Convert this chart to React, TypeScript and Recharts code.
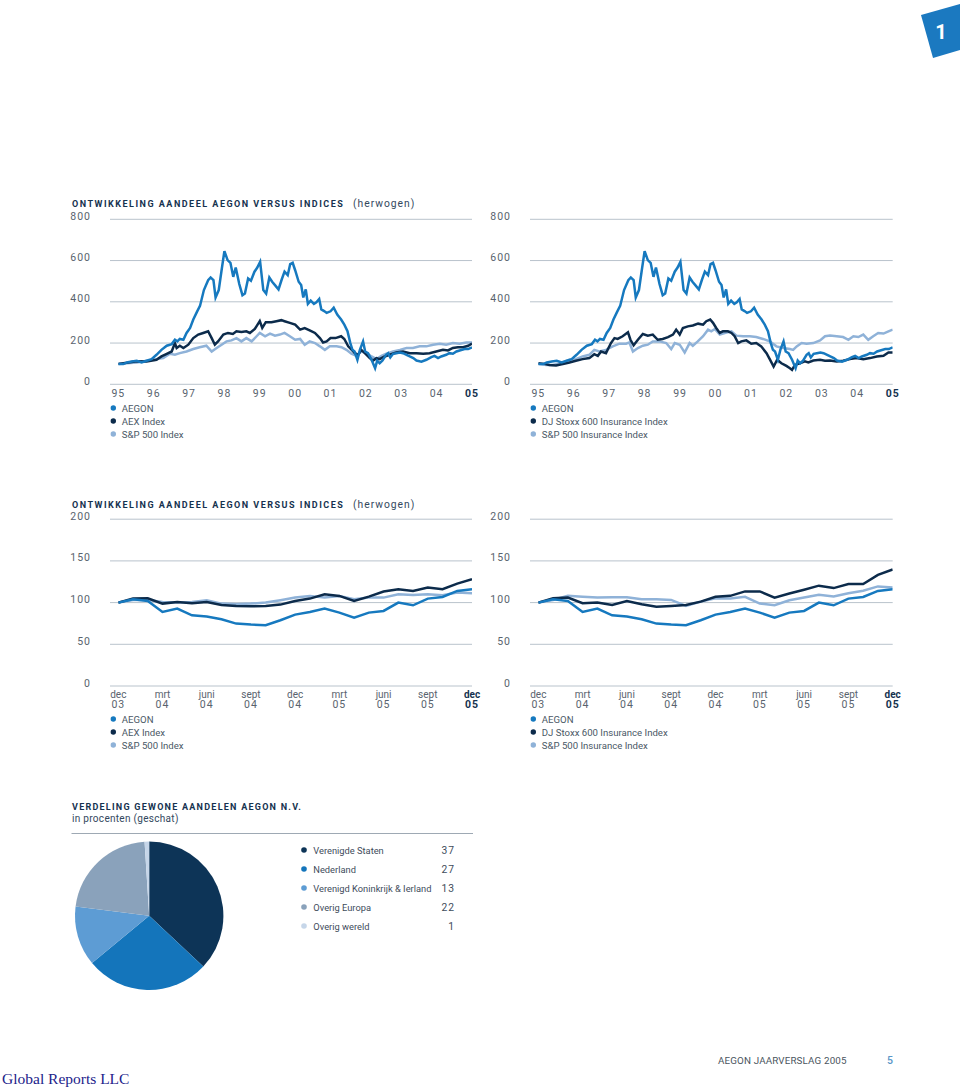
import React from 'react';
import { LineChart, Line, XAxis, YAxis, CartesianGrid, PieChart, Pie, Cell } from 'recharts';

const FONT = 'Roboto, "Open Sans", sans-serif';
const C_AEGON = '#1679bf';
const C_DARK = '#0c2b4b';
const C_LIGHT = '#8fb2d8';
const GRID = '#b9c3cc';
const TICK = '#59636e';
const NAVY = '#15324f';

// Long-term series: [year (95 = 1995 ... 105 = 2005), indexed value]
const aegonLong: [number, number][] = [
  [95.0, 99], [95.14, 98], [95.24, 106], [95.38, 111], [95.52, 114], [95.66, 106], [95.8, 114], [95.94, 122],
  [96.08, 143], [96.22, 167], [96.37, 187], [96.51, 195], [96.6, 216], [96.67, 208], [96.74, 220], [96.84, 216],
  [96.93, 249], [97.03, 273], [97.12, 314], [97.22, 350], [97.31, 380], [97.42, 457], [97.54, 505], [97.61, 518],
  [97.69, 505], [97.75, 421], [97.84, 457], [97.92, 553], [98.0, 646], [98.09, 602], [98.17, 589], [98.25, 521],
  [98.32, 566], [98.42, 486], [98.51, 432], [98.58, 440], [98.67, 513], [98.75, 502], [98.85, 546], [98.93, 566],
  [99.01, 594], [99.1, 457], [99.18, 440], [99.27, 518], [99.35, 497], [99.43, 481], [99.53, 460], [99.62, 508],
  [99.7, 546], [99.79, 529], [99.86, 583], [99.93, 589], [100.0, 553], [100.1, 497], [100.17, 481], [100.23, 421],
  [100.3, 460], [100.36, 390], [100.44, 406], [100.53, 390], [100.6, 398], [100.68, 414], [100.74, 363], [100.82, 355],
  [100.89, 346], [101.0, 354], [101.09, 371], [101.19, 338], [101.3, 314], [101.39, 289], [101.48, 257], [101.56, 200],
  [101.62, 167], [101.68, 159], [101.76, 119], [101.83, 167], [101.92, 208], [101.98, 159], [102.06, 151], [102.16, 119],
  [102.26, 78], [102.32, 115], [102.39, 102], [102.47, 115], [102.57, 143], [102.63, 151], [102.69, 130], [102.77, 148],
  [102.86, 151], [102.96, 154], [103.05, 151], [103.15, 143], [103.24, 135], [103.34, 127], [103.43, 115], [103.57, 110],
  [103.71, 119], [103.85, 132], [103.94, 138], [104.04, 127], [104.13, 135], [104.27, 143], [104.36, 151], [104.46, 148],
  [104.56, 159], [104.65, 164], [104.79, 171], [104.89, 171], [105.0, 179],
];

const aexLong: [number, number][] = [
  [95.0, 99], [95.24, 104], [95.52, 112], [95.8, 110], [96.08, 119], [96.22, 135], [96.37, 148], [96.51, 159],
  [96.6, 200], [96.65, 176], [96.74, 187], [96.84, 176], [96.98, 192], [97.12, 224], [97.26, 241], [97.4, 249],
  [97.54, 257], [97.64, 224], [97.73, 192], [97.82, 208], [97.97, 241], [98.1, 249], [98.24, 244], [98.34, 257],
  [98.48, 254], [98.62, 257], [98.72, 249], [98.86, 268], [99.0, 306], [99.07, 273], [99.17, 301], [99.33, 301],
  [99.47, 306], [99.61, 311], [99.7, 306], [99.85, 298], [100.0, 289], [100.14, 265], [100.27, 273], [100.41, 262],
  [100.56, 249], [100.7, 224], [100.79, 203], [100.89, 208], [101.0, 224], [101.14, 224], [101.3, 233], [101.39, 220],
  [101.5, 184], [101.6, 167], [101.69, 151], [101.78, 143], [101.87, 167], [101.97, 151], [102.11, 127], [102.2, 115],
  [102.3, 127], [102.39, 122], [102.53, 135], [102.67, 143], [102.86, 154], [103.05, 159], [103.24, 151], [103.43, 151],
  [103.62, 148], [103.8, 151], [103.99, 159], [104.18, 167], [104.32, 164], [104.46, 176], [104.6, 180], [104.75, 180],
  [104.89, 187], [105.0, 197],
];

const spLong: [number, number][] = [
  [95.0, 98], [95.24, 102], [95.52, 106], [95.8, 114], [96.08, 122], [96.27, 127], [96.46, 148], [96.6, 143],
  [96.74, 151], [96.93, 159], [97.12, 171], [97.3, 180], [97.49, 187], [97.64, 159], [97.78, 176], [97.92, 192],
  [98.06, 208], [98.2, 213], [98.34, 224], [98.48, 208], [98.62, 224], [98.77, 208], [98.91, 233], [99.0, 249],
  [99.15, 233], [99.29, 246], [99.43, 236], [99.57, 241], [99.7, 249], [99.85, 233], [100.0, 216], [100.14, 220],
  [100.27, 192], [100.41, 208], [100.56, 200], [100.7, 184], [100.84, 167], [100.98, 184], [101.17, 184], [101.31, 180],
  [101.45, 167], [101.59, 148], [101.73, 138], [101.87, 159], [102.02, 151], [102.16, 135], [102.3, 122], [102.44, 138],
  [102.58, 148], [102.77, 159], [102.96, 167], [103.15, 176], [103.33, 176], [103.52, 184], [103.71, 184], [103.9, 192],
  [104.09, 197], [104.27, 192], [104.46, 200], [104.65, 197], [104.84, 203], [105.0, 203],
];

const djLong: [number, number][] = [
  [95.0, 102], [95.17, 99], [95.31, 94], [95.5, 91], [95.69, 98], [95.88, 106], [96.06, 114], [96.25, 122],
  [96.44, 127], [96.58, 146], [96.68, 138], [96.77, 159], [96.91, 151], [97.05, 200], [97.15, 224], [97.24, 220],
  [97.38, 233], [97.53, 252], [97.6, 216], [97.69, 189], [97.81, 216], [97.95, 244], [98.09, 236], [98.23, 241],
  [98.37, 216], [98.51, 220], [98.66, 229], [98.8, 241], [98.89, 265], [98.99, 241], [99.08, 273], [99.22, 281],
  [99.36, 285], [99.51, 294], [99.65, 289], [99.74, 306], [99.85, 314], [99.93, 298], [100.02, 273], [100.12, 249],
  [100.21, 257], [100.35, 257], [100.45, 249], [100.54, 233], [100.64, 200], [100.73, 208], [100.87, 213], [101.01, 197],
  [101.15, 200], [101.29, 184], [101.44, 151], [101.53, 122], [101.64, 86], [101.74, 119], [101.86, 102], [102.0, 89],
  [102.1, 78], [102.16, 70], [102.24, 94], [102.38, 102], [102.52, 111], [102.62, 106], [102.76, 115], [102.95, 119],
  [103.09, 114], [103.23, 115], [103.42, 111], [103.6, 114], [103.79, 122], [103.98, 127], [104.17, 122], [104.36, 127],
  [104.55, 135], [104.74, 138], [104.88, 154], [105.0, 154],
];

const spInsLong: [number, number][] = [
  [95.0, 99], [95.22, 94], [95.41, 94], [95.64, 102], [95.88, 119], [96.06, 122], [96.25, 135], [96.44, 143],
  [96.58, 167], [96.72, 159], [96.91, 167], [97.1, 184], [97.29, 197], [97.48, 197], [97.57, 203], [97.67, 159],
  [97.81, 176], [97.95, 187], [98.09, 192], [98.23, 208], [98.42, 208], [98.61, 200], [98.75, 171], [98.85, 200],
  [98.99, 192], [99.13, 154], [99.27, 200], [99.36, 187], [99.5, 208], [99.65, 233], [99.79, 265], [99.88, 257],
  [99.98, 268], [100.12, 241], [100.26, 249], [100.45, 257], [100.59, 236], [100.78, 233], [100.97, 233], [101.15, 229],
  [101.34, 220], [101.53, 208], [101.72, 184], [101.91, 176], [102.1, 171], [102.19, 167], [102.29, 184], [102.43, 200],
  [102.57, 197], [102.76, 200], [102.95, 213], [103.09, 233], [103.23, 236], [103.42, 233], [103.6, 229], [103.75, 216],
  [103.89, 233], [104.03, 229], [104.17, 241], [104.31, 216], [104.45, 233], [104.59, 249], [104.74, 246], [104.88, 257],
  [105.0, 265],
];

const longTicks = [95, 96, 97, 98, 99, 100, 101, 102, 103, 104, 105];
const longTickLabels = ['95', '96', '97', '98', '99', '00', '01', '02', '03', '04', '05'];
const longYTicks = [0, 200, 400, 600, 800];

// Short-term series: monthly, dec 03 ... dec 05 (25 months)
const midMonths = ['dec', 'mrt', 'juni', 'sept', 'dec', 'mrt', 'juni', 'sept', 'dec'];
const midYears = ['03', '04', '04', '04', '04', '05', '05', '05', '05'];
const midTickIdx = [0, 3, 6, 9, 12, 15, 18, 21, 24];
const midYTicks = [0, 50, 100, 150, 200];

const aegonMid = [100, 104, 102, 88.8, 92.8, 84.8, 83.2, 80, 74.8, 73.6, 72.8, 78.8, 85.6, 88.8, 92.8, 88, 82, 88, 90, 100, 96.8, 104.8, 106.8, 114, 116];
const aexMid = [100, 104.8, 105.2, 98.8, 100.8, 99.2, 100.8, 97.2, 96, 95.6, 96, 97.6, 102, 104.8, 110, 108, 102, 107.2, 113.2, 116, 114, 118, 116, 122.8, 128];
const spMid = [100, 103.2, 103.2, 100.8, 100, 100.8, 102.8, 98.8, 98, 98.8, 100, 102.8, 106, 108, 106, 108, 104, 106, 106, 110, 109.2, 110, 108.8, 112, 111.2];
const djMid = [100, 105.3, 106, 99.2, 100, 97.2, 102, 98, 95.1, 96, 97.2, 101.2, 106.9, 108.1, 113.4, 113.4, 106, 110.9, 115.4, 120.3, 117.4, 122.3, 122.3, 133.2, 139.7];
const spInsMid = [100, 103.2, 108.1, 106.9, 106, 106.5, 106.5, 104, 104, 103.2, 96, 101.2, 105.3, 104.9, 106.9, 98.8, 96.8, 102.8, 106, 109.3, 107.3, 111.3, 114.2, 119.4, 118.2];

const legendLeft = ['AEGON', 'AEX Index', 'S&P 500 Index'];
const legendRight = ['AEGON', 'DJ Stoxx 600 Insurance Index', 'S&P 500 Insurance Index'];
const legendColors = [C_AEGON, C_DARK, C_LIGHT];

const pieLabels = ['Verenigde Staten', 'Nederland', 'Verenigd Koninkrijk & Ierland', 'Overig Europa', 'Overig wereld'];
const pieValues = [37, 27, 13, 22, 1];
const pieColors = ['#0d3457', '#1475bb', '#5d9cd4', '#8aa2bb', '#c6d6e9'];

const toXY = (arr: [number, number][]) => arr.map(([x, y]) => ({ x, y }));
const toIdx = (arr: number[]) => arr.map((y, x) => ({ x, y }));

const YTick = (props: any) => {
  const { x, y, payload } = props;
  return (
    <text x={x} y={y} dy={0.5} textAnchor="end" fontFamily={FONT} fontSize={10.5} letterSpacing={1} fill={TICK}>
      {payload.value}
    </text>
  );
};

const LongXTick = (props: any) => {
  const { x, y, payload } = props;
  const i = longTicks.indexOf(payload.value);
  const last = i === longTicks.length - 1;
  return (
    <text x={x} y={y + 12.4} textAnchor="middle" fontFamily={FONT} fontSize={10.5} letterSpacing={1}
      fontWeight={last ? 700 : 400} fill={last ? NAVY : TICK}>
      {longTickLabels[i]}
    </text>
  );
};

const MidXTick = (props: any) => {
  const { x, y, payload } = props;
  const i = midTickIdx.indexOf(payload.value);
  const last = i === midTickIdx.length - 1;
  return (
    <g>
      <text x={x} y={y + 11.8} textAnchor="middle" fontFamily={FONT} fontSize={10}
        fontWeight={last ? 700 : 400} fill={last ? NAVY : TICK}>
        {midMonths[i]}
      </text>
      <text x={x} y={y + 21.8} textAnchor="middle" fontFamily={FONT} fontSize={10.5} letterSpacing={1}
        fontWeight={last ? 700 : 400} fill={last ? NAVY : TICK}>
        {midYears[i]}
      </text>
    </g>
  );
};

type Series = { data: { x: number; y: number }[]; color: string };

function LongChart({ left, right, series }: { left: number; right: number; series: Series[] }) {
  return (
    <div style={{ position: 'absolute', left, top: 200, width: 440, height: 215 }}>
      <LineChart width={440} height={215} margin={{ top: 19.3, right, bottom: 0.7, left: 10 }}>
        <CartesianGrid vertical={false} stroke={GRID} strokeWidth={1} />
        <XAxis type="number" dataKey="x" domain={[95, 105]} ticks={longTicks} interval={0}
          axisLine={false} tickLine={false} tickSize={0} tickMargin={0} height={30}
          padding={{ left: 8.3, right: 0 }} tick={LongXTick} allowDataOverflow />
        <YAxis type="number" domain={[0, 800]} ticks={longYTicks} width={40} interval={0}
          axisLine={false} tickLine={false} tickSize={0} tickMargin={19} tick={YTick} />
        {series.map((s, i) => (
          <Line key={i} data={s.data} dataKey="y" type="linear" stroke={s.color} strokeWidth={2.5}
            dot={false} activeDot={false} isAnimationActive={false} />
        ))}
      </LineChart>
    </div>
  );
}

function MidChart({ left, right, series }: { left: number; right: number; series: Series[] }) {
  return (
    <div style={{ position: 'absolute', left, top: 500, width: 440, height: 215 }}>
      <LineChart width={440} height={215} margin={{ top: 19.2, right, bottom: 0, left: 10 }}>
        <CartesianGrid vertical={false} stroke={GRID} strokeWidth={1} />
        <XAxis type="number" dataKey="x" domain={[0, 24]} ticks={midTickIdx} interval={0}
          axisLine={false} tickLine={false} tickSize={0} tickMargin={0} height={29}
          padding={{ left: 8.3, right: 0 }} tick={MidXTick} allowDataOverflow />
        <YAxis type="number" domain={[0, 200]} ticks={midYTicks} width={40} interval={0}
          axisLine={false} tickLine={false} tickSize={0} tickMargin={19} tick={YTick} />
        {series.map((s, i) => (
          <Line key={i} data={s.data} dataKey="y" type="linear" stroke={s.color} strokeWidth={2.5}
            dot={false} activeDot={false} isAnimationActive={false} />
        ))}
      </LineChart>
    </div>
  );
}

function Legend({ x, baselines, labels }: { x: number; baselines: number[]; labels: string[] }) {
  return (
    <g>
      {labels.map((l, i) => (
        <g key={i}>
          <circle cx={x} cy={baselines[i] - 3.5} r={2.7} fill={legendColors[i]} />
          <text x={x + 8.5} y={baselines[i]} fontFamily={FONT} fontSize={9.6} fill="#4a5866">{l}</text>
        </g>
      ))}
    </g>
  );
}

function Title({ x, y }: { x: number; y: number }) {
  return (
    <text x={x} y={y} fontFamily={FONT} fill={NAVY}>
      <tspan fontSize={9} fontWeight={700} letterSpacing={1.5}>ONTWIKKELING AANDEEL AEGON VERSUS INDICES</tspan>
      <tspan x={353} fontSize={10.3} fontWeight={400} letterSpacing={1} fill="#33485e">(herwogen)</tspan>
    </text>
  );
}

export default function App() {
  const leftLong: Series[] = [
    { data: toXY(spLong), color: C_LIGHT },
    { data: toXY(aexLong), color: C_DARK },
    { data: toXY(aegonLong), color: C_AEGON },
  ];
  const rightLong: Series[] = [
    { data: toXY(spInsLong), color: C_LIGHT },
    { data: toXY(djLong), color: C_DARK },
    { data: toXY(aegonLong), color: C_AEGON },
  ];
  const leftMid: Series[] = [
    { data: toIdx(spMid), color: C_LIGHT },
    { data: toIdx(aexMid), color: C_DARK },
    { data: toIdx(aegonMid), color: C_AEGON },
  ];
  const rightMid: Series[] = [
    { data: toIdx(spInsMid), color: C_LIGHT },
    { data: toIdx(djMid), color: C_DARK },
    { data: toIdx(aegonMid), color: C_AEGON },
  ];
  const pieData = pieLabels.map((name, i) => ({ name, value: pieValues[i] }));

  return (
    <div style={{ position: 'absolute', left: 0, top: 0, width: 960, height: 1090, background: '#fff', overflow: 'hidden' }}>
      <LongChart left={60} right={28} series={leftLong} />
      <LongChart left={480} right={27.3} series={rightLong} />
      <MidChart left={60} right={28} series={leftMid} />
      <MidChart left={480} right={27.3} series={rightMid} />

      <div style={{ position: 'absolute', left: 70, top: 835, width: 160, height: 165 }}>
        <PieChart width={160} height={165} margin={{ top: 0, right: 0, bottom: 0, left: 0 }}>
          <Pie data={pieData} dataKey="value" nameKey="name" cx={79.2} cy={80.8} outerRadius={74.2}
            startAngle={90} endAngle={-270} stroke="none" isAnimationActive={false}>
            {pieData.map((d, i) => <Cell key={i} fill={pieColors[i]} />)}
          </Pie>
        </PieChart>
      </div>

      <svg width={960} height={1090} style={{ position: 'absolute', left: 0, top: 0, pointerEvents: 'none' }}>
        <polygon points="921,15 960,4 960,50 933,58" fill="#1b79c0" />
        <text x={941} y={39} textAnchor="middle" fontFamily={FONT} fontSize={20} fontWeight={700} fill="#fff">1</text>

        <Title x={72} y={206.7} />
        <Title x={72} y={508.3} />

        <Legend x={113.3} baselines={[411.5, 424.5, 437.5]} labels={legendLeft} />
        <Legend x={533.3} baselines={[411.5, 424.5, 437.5]} labels={legendRight} />
        <Legend x={113.3} baselines={[722.5, 735.5, 748.5]} labels={legendLeft} />
        <Legend x={533.3} baselines={[722.5, 735.5, 748.5]} labels={legendRight} />

        <text x={72} y={810} fontFamily={FONT} fontSize={9} fontWeight={700} letterSpacing={1.25} fill={NAVY}>
          VERDELING GEWONE AANDELEN AEGON N.V.
        </text>
        <text x={72} y={822} fontFamily={FONT} fontSize={10} letterSpacing={0.3} fill="#33485e">in procenten (geschat)</text>
        <line x1={71.5} x2={473} y1={833.5} y2={833.5} stroke="#9ea9b4" strokeWidth={1} />

        {pieLabels.map((l, i) => {
          const by = 853.5 + i * 19;
          return (
            <g key={i}>
              <circle cx={304} cy={by - 3.5} r={2.8} fill={pieColors[i]} />
              <text x={313.3} y={by} fontFamily={FONT} fontSize={9.3} fill="#3e4c5b">{l}</text>
              <text x={455} y={by} textAnchor="end" fontFamily={FONT} fontSize={10.3} letterSpacing={1} fill="#3e4c5b">{pieValues[i]}</text>
            </g>
          );
        })}

        <text x={718} y={1064} fontFamily={FONT} fontSize={9.8} letterSpacing={0.15} fill="#4a5560">AEGON JAARVERSLAG 2005</text>
        <text x={887} y={1064} fontFamily={FONT} fontSize={10.5} fontWeight={500} fill="#5a96c8">5</text>

        <text x={2} y={1084} fontFamily='"Liberation Serif", "Times New Roman", serif' fontSize={15.5} fill="#22228a">Global Reports LLC</text>
      </svg>
    </div>
  );
}
